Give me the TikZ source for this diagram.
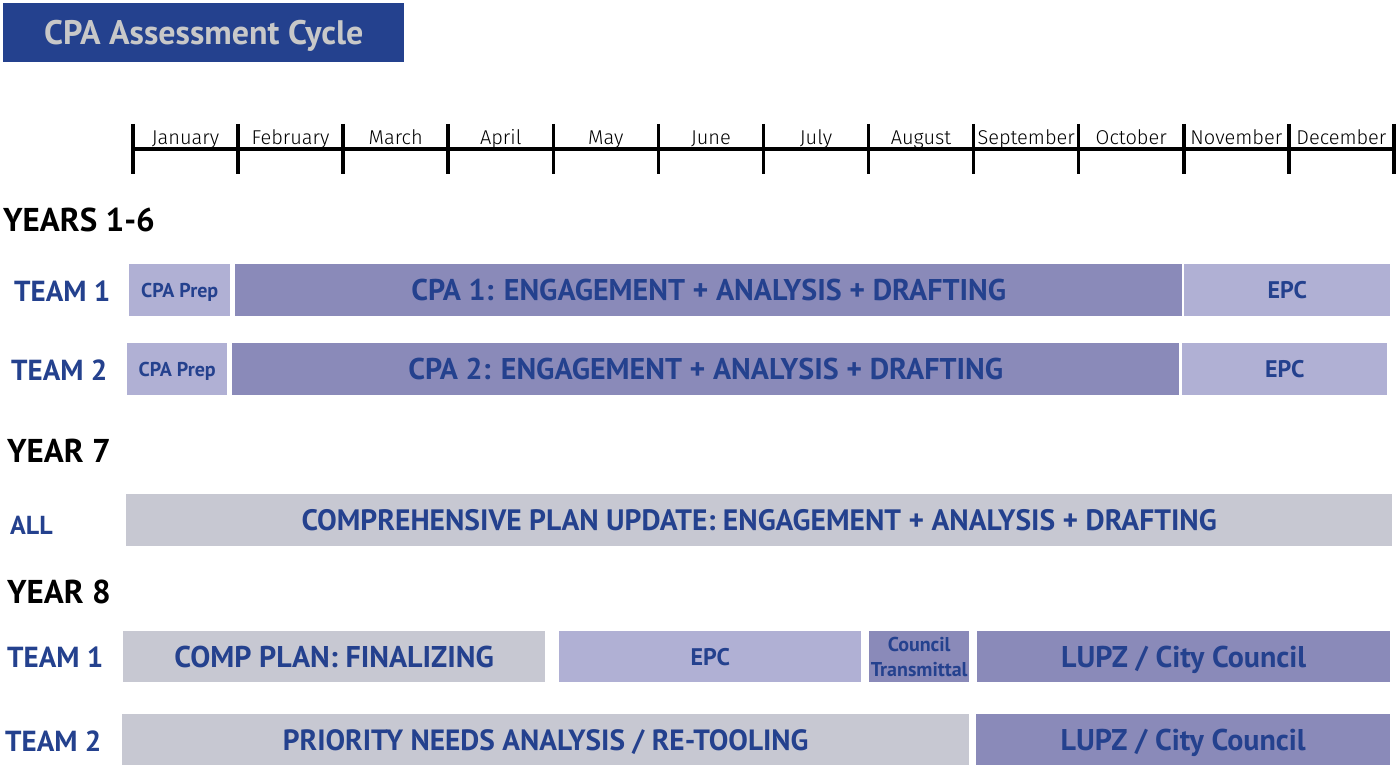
\documentclass[tikz,border=0pt]{standalone}
\usepackage{fontspec}
\setmainfont{PT Sans}
\newfontfamily\monthfont{Fira Sans Light}

\definecolor{cyclenavy}{HTML}{24418E}
\definecolor{barlight}{HTML}{B0B0D4}
\definecolor{bardark}{HTML}{8A8AB9}
\definecolor{bargray}{HTML}{C7C8D2}
\definecolor{titlegray}{HTML}{C8C8C8}

\tikzset{
  bar/.style={inner sep=0pt, anchor=north west, minimum height=52pt, text=cyclenavy,
    font=\bfseries\fontsize{30}{36}\selectfont, text height=21pt, text depth=0pt},
  smalltext/.style={font=\bfseries\fontsize{20}{25}\selectfont, text height=14pt},
  midtext/.style={font=\bfseries\fontsize{24}{28}\selectfont, text height=17pt},
  heading/.style={inner sep=0pt, anchor=west, text=black,
    font=\bfseries\fontsize{33}{40}\selectfont, text height=23pt, text depth=0pt},
  team/.style={inner sep=0pt, anchor=west, text=cyclenavy,
    font=\bfseries\fontsize{29}{35}\selectfont, text height=20pt, text depth=0pt},
  month/.style={inner sep=0pt, anchor=base, font=\monthfont\fontsize{20}{24}\selectfont}
}

\begin{document}
\begin{tikzpicture}[x=1pt,y=-1pt]
\useasboundingbox (0,0) rectangle (1400,765);

\node[fill=cyclenavy, inner sep=0pt, anchor=north west, minimum width=401pt, minimum height=59pt,
  text=titlegray, font=\bfseries\fontsize{34}{40}\selectfont, text height=24pt, text depth=0pt] (title) at (3,3) {CPA Assessment Cycle};

% month scale
\draw[line width=4pt] (133,149) -- (1394,149);
\foreach \i in {0,...,12}
  \draw[line width=3.5pt] ({133+105.08*\i},124) -- ({133+105.08*\i},174);
\foreach \m [count=\i from 0] in {January,February,March,April,May,June,July,August,September,October,November,December}
  \node[month] (m\i) at ({185.5+105.08*\i},145) {\m};

% years 1-6
\node[heading] (y16) at (3,220) {YEARS 1-6};
\node[team] (y16t1) at (14,291) {TEAM 1};
\node[bar, fill=barlight, minimum width=101pt, smalltext] (prep1) at (129,264) {CPA Prep};
\node[bar, fill=bardark, minimum width=947pt] (cpa1) at (235,264) {CPA 1: ENGAGEMENT + ANALYSIS + DRAFTING};
\node[bar, fill=barlight, minimum width=206pt, midtext] (epc1) at (1184,264) {EPC};

\node[team] (y16t2) at (11,370) {TEAM 2};
\node[bar, fill=barlight, minimum width=100pt, smalltext] (prep2) at (127,343) {CPA Prep};
\node[bar, fill=bardark, minimum width=947pt] (cpa2) at (232,343) {CPA 2: ENGAGEMENT + ANALYSIS + DRAFTING};
\node[bar, fill=barlight, minimum width=205pt, midtext] (epc2) at (1182,343) {EPC};

% year 7
\node[heading] (y7) at (7,451) {YEAR 7};
\node[team, font=\bfseries\fontsize{26}{30}\selectfont, text height=18pt] (y7all) at (10,525) {ALL};
\node[bar, fill=bargray, minimum width=1266pt, font=\bfseries\fontsize{29.5}{34}\selectfont, text height=20pt] (update) at (126,494)
  {COMPREHENSIVE PLAN UPDATE: ENGAGEMENT + ANALYSIS + DRAFTING};

% year 8
\node[heading] (y8) at (7,592) {YEAR 8};
\node[team] (y8t1) at (7,657) {TEAM 1};
\node[bar, fill=bargray, minimum width=422pt, minimum height=51pt] (final) at (123,631) {COMP PLAN: FINALIZING};
\node[bar, fill=barlight, minimum width=302pt, minimum height=51pt, midtext] (epc3) at (559,631) {EPC};
\node[bar, fill=bardark, minimum width=100pt, minimum height=51pt, align=center,
  font=\bfseries\fontsize{20}{25}\selectfont, text height=, text depth=] (transmit) at (869,631) {Council\\Transmittal};
\node[bar, fill=bardark, minimum width=413pt, minimum height=51pt] (lupz1) at (977,631) {LUPZ / City Council};

\node[team] (y8t2) at (5,741) {TEAM 2};
\node[bar, fill=bargray, minimum width=847pt, minimum height=51pt, font=\bfseries\fontsize{29.3}{35}\selectfont] (retool) at (122,714) {PRIORITY NEEDS ANALYSIS / RE-TOOLING};
\node[bar, fill=bardark, minimum width=414pt, minimum height=51pt] (lupz2) at (976,714) {LUPZ / City Council};

\end{tikzpicture}
\end{document}
